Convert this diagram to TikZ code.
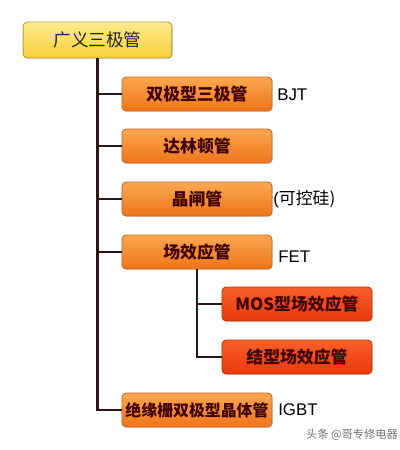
\documentclass[tikz,border=0pt]{standalone}
\usepackage{fontspec}
\setmainfont{Liberation Sans}
\newfontfamily\cjk{Noto Sans CJK SC}
\usepackage{xcolor}
\usetikzlibrary{positioning,shadows}

\definecolor{rootTop}{HTML}{FDEB8C}
\definecolor{rootBot}{HTML}{F6CF3A}
\definecolor{rootLine}{HTML}{B89A3C}
\definecolor{orTop}{HTML}{FBA850}
\definecolor{orBot}{HTML}{EE7419}
\definecolor{orLine}{HTML}{C8671E}
\definecolor{rdTop}{HTML}{F8602A}
\definecolor{rdBot}{HTML}{E8380C}
\definecolor{rdLine}{HTML}{B8380E}
\definecolor{trunk}{HTML}{2E1414}

\begin{document}
\begin{tikzpicture}[
  x=0.025cm, y=-0.025cm,
  box/.style={rectangle, rounded corners=3pt, line width=0.6pt,
    minimum width=3.75cm, minimum height=0.85cm, inner sep=1pt,
    font=\cjk\fontsize{12}{14}\selectfont\bfseries, text=black!75!red,
    drop shadow={shadow xshift=0.6pt, shadow yshift=-0.8pt, opacity=0.25}},
  rootbox/.style={box, draw=rootLine, top color=rootTop, bottom color=rootBot,
    minimum width=3.72cm, minimum height=0.9cm, text=black!85,
    font=\cjk\fontsize{12.5}{14}\selectfont},
  ybox/.style={box, draw=orLine, top color=orTop, bottom color=orBot},
  rbox/.style={box, draw=rdLine, top color=rdTop, bottom color=rdBot},
  tag/.style={anchor=west, font=\fontsize{12}{14}\selectfont, inner sep=0pt},
  link/.style={draw=trunk, line width=1.8pt}
]
  \useasboundingbox (0,0) rectangle (400,450);

  \node[rootbox] (GY) at (97.5,40) {广义三极管};
  \node[ybox] (BJT) at (197,94) {双极型三极管};
  \node[ybox] (DLD) at (197,146) {达林顿管};
  \node[ybox] (JZG) at (197,199) {晶闸管};
  \node[ybox] (FET) at (197,252) {场效应管};
  \node[rbox] (MOS) at (297,304) {MOS型场效应管};
  \node[rbox] (JFET) at (297,357) {结型场效应管};
  \node[ybox, font=\cjk\fontsize{11.3}{14}\selectfont\bfseries] (IGBT) at (197,410) {绝缘栅双极型晶体管};

  \node[tag] (tBJT) at (277,95) {BJT};
  \node[tag] (tJZG) at (273,199) {(\cjk 可控硅)};
  \node[tag] (tFET) at (278,257) {FET};
  \node[tag] (tIGBT) at (278,410) {IGBT};
  \node[font=\cjk\fontsize{8}{10}\selectfont, text=black!55] (mark) at (352,435) {头条 @哥专修电器};

  \draw[link] (GY.south) |- (IGBT.west);
  \draw[link] (GY.south |- BJT.west) -- (BJT.west);
  \draw[link] (GY.south |- DLD.west) -- (DLD.west);
  \draw[link] (GY.south |- JZG.west) -- (JZG.west);
  \draw[link] (GY.south |- FET.west) -- (FET.west);
  \draw[link] (FET.south) |- (JFET.west);
  \draw[link] (FET.south |- MOS.west) -- (MOS.west);
\end{tikzpicture}
\end{document}
